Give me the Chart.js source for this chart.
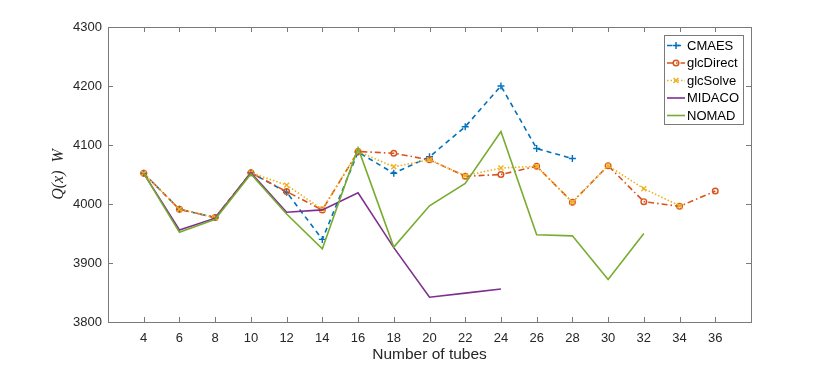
<!DOCTYPE html>
<html>
<head>
<meta charset="utf-8">
<script src="https://cdn.jsdelivr.net/npm/chart.js@4.4.0/dist/chart.umd.min.js"></script>
<style>
  html, body { margin: 0; padding: 0; background: #fff; }
  canvas { display: block; }
</style>
</head>
<body>
<canvas id="tubes" width="830" height="367"></canvas>
<script>
// number of tubes on the x axis
const tubes = [4, 6, 8, 10, 12, 14, 16, 18, 20, 22, 24, 26, 28, 30, 32, 34, 36];

// Q(x) in W for each solver (null = no result)
const cmaes     = [4052, 3991, 3977, 4053, 4020, 3940, 4088, 4052, 4080, 4131, 4200, 4094, 4077, null, null, null, null];
const glcDirect = [4052, 3991, 3977, 4053, 4021, 3990, 4089, 4086, 4075, 4047, 4050, 4064, 4003, 4065, 4004, 3996, 4022];
const glcSolve  = [4052, 3991, 3977, 4053, 4032, 3991, 4089, 4063, 4075, 4048, 4061, 4064, 4003, 4065, 4026, 3997, null];
const midaco    = [4052, 3956, 3976, 4053, 3986, 3990, 4019, 3926, 3842, 3849, 3856, null, null, null, null, null, null];
const nomad     = [4052, 3952, 3974, 4051, 3983, 3924, 4095, 3927, 3997, 4035, 4123, 3948, 3946, 3872, 3950, null, null];

const yTicks = [3800, 3900, 4000, 4100, 4200, 4300];

const toPoints = (vals) => tubes.map((t, i) => ({ x: t, y: vals[i] })).filter(p => p.y !== null);

const axisColor = '#262626';
const boxColor = '#7a7a7a';

function marker(ctx, style, x, y, r, color) {
  ctx.save();
  ctx.setLineDash([]);
  ctx.strokeStyle = color;
  ctx.lineWidth = 1.5;
  ctx.beginPath();
  if (style === 'circle') {
    ctx.arc(x, y, r, 0, Math.PI * 2);
  } else if (style === 'cross') {
    ctx.moveTo(x - r, y); ctx.lineTo(x + r, y);
    ctx.moveTo(x, y - r); ctx.lineTo(x, y + r);
  } else if (style === 'crossRot') {
    const d = r * 0.71;
    ctx.moveTo(x - d, y - d); ctx.lineTo(x + d, y + d);
    ctx.moveTo(x + d, y - d); ctx.lineTo(x - d, y + d);
  }
  if (style) ctx.stroke();
  ctx.restore();
}

// matlab style box with inward ticks
const boxPlugin = {
  id: 'box',
  afterDraw(chart) {
    const { ctx, chartArea: a, scales } = chart;
    ctx.save();
    ctx.strokeStyle = boxColor;
    ctx.lineWidth = 1;
    ctx.strokeRect(a.left + 0.5, a.top + 0.5, a.right - a.left, a.bottom - a.top);
    const len = 5;
    ctx.beginPath();
    tubes.forEach(t => {
      const px = Math.round(scales.x.getPixelForValue(t)) + 0.5;
      ctx.moveTo(px, a.bottom); ctx.lineTo(px, a.bottom - len);
      ctx.moveTo(px, a.top); ctx.lineTo(px, a.top + len);
    });
    yTicks.forEach(v => {
      const py = Math.round(scales.y.getPixelForValue(v)) + 0.5;
      ctx.moveTo(a.left, py); ctx.lineTo(a.left + len, py);
      ctx.moveTo(a.right, py); ctx.lineTo(a.right - len, py);
    });
    ctx.stroke();
    ctx.restore();
  }
};

// legend box in the upper right corner
const legendPlugin = {
  id: 'boxLegend',
  afterDraw(chart) {
    const { ctx, chartArea: a } = chart;
    const w = 79, h = 89;
    const x0 = a.right - 8 - w, y0 = a.top + 8;
    ctx.save();
    ctx.fillStyle = '#fff';
    ctx.fillRect(x0, y0, w, h);
    ctx.strokeStyle = boxColor;
    ctx.lineWidth = 1;
    ctx.strokeRect(x0 + 0.5, y0 + 0.5, w, h);
    ctx.font = '13px "Liberation Sans", Arial, sans-serif';
    ctx.textBaseline = 'middle';
    chart.data.datasets.forEach((ds, i) => {
      const y = y0 + 10.5 + i * 17.5;
      ctx.strokeStyle = ds.borderColor;
      ctx.lineWidth = ds.borderWidth;
      ctx.setLineDash(ds.borderDash || []);
      ctx.beginPath();
      ctx.moveTo(x0 + 3, y); ctx.lineTo(x0 + 21, y);
      ctx.stroke();
      if (ds.pointRadius > 0) marker(ctx, ds.pointStyle, x0 + 12, y, ds.pointRadius, ds.borderColor);
      ctx.setLineDash([]);
      ctx.fillStyle = '#000';
      ctx.fillText(ds.label, x0 + 23, y + 0.5);
    });
    ctx.restore();
  }
};

const series = (label, vals, color, dash, style, radius, order) => ({
  label: label,
  data: toPoints(vals),
  borderColor: color,
  backgroundColor: 'rgba(0,0,0,0)',
  borderWidth: 1.6,
  borderDash: dash,
  pointStyle: style,
  pointRadius: radius,
  pointBorderWidth: 1.4,
  pointBorderColor: color,
  pointBackgroundColor: 'rgba(0,0,0,0)',
  tension: 0,
  order: order
});

new Chart(document.getElementById('tubes'), {
  type: 'line',
  data: {
    datasets: [
      series('CMAES', cmaes, '#0072BD', [5, 4], 'cross', 3.5, 5),
      series('glcDirect', glcDirect, '#D95319', [6, 3, 1.5, 3], 'circle', 2.8, 4),
      series('glcSolve', glcSolve, '#EDB120', [1.5, 2], 'crossRot', 3.5, 3),
      series('MIDACO', midaco, '#7E2F8E', [], false, 0, 2),
      series('NOMAD', nomad, '#77AC30', [], false, 0, 1)
    ]
  },
  options: {
    responsive: false,
    animation: false,
    layout: { padding: { left: 0, right: 79, top: 27, bottom: 0 } },
    plugins: {
      legend: { display: false },
      tooltip: { enabled: false }
    },
    scales: {
      x: {
        type: 'linear',
        min: 2,
        max: 38,
        afterBuildTicks: (scale) => { scale.ticks = tubes.map(v => ({ value: v })); },
        afterFit: (scale) => { scale.height = 45; },
        grid: { display: false, drawTicks: false },
        border: { display: false },
        ticks: {
          padding: 9,
          color: axisColor,
          maxRotation: 0,
          autoSkip: false,
          callback: (v) => String(v),
          font: { family: '"Liberation Sans", Arial, sans-serif', size: 13 }
        },
        title: {
          display: true,
          text: 'Number of tubes',
          color: axisColor,
          padding: { top: 0, bottom: 3 },
          font: { family: '"Liberation Sans", Arial, sans-serif', size: 15.5 }
        }
      },
      y: {
        min: 3800,
        max: 4300,
        afterBuildTicks: (scale) => { scale.ticks = yTicks.map(v => ({ value: v })); },
        afterFit: (scale) => { scale.width = 108; },
        grid: { display: false, drawTicks: false },
        border: { display: false },
        ticks: {
          padding: 6,
          color: axisColor,
          callback: (v) => String(v),
          font: { family: '"Liberation Sans", Arial, sans-serif', size: 13 }
        },
        title: {
          display: true,
          text: 'Q(x)  W',
          color: axisColor,
          padding: { top: 49, bottom: 0 },
          font: { family: '"Liberation Serif", serif', size: 16, style: 'italic' }
        }
      }
    }
  },
  plugins: [boxPlugin, legendPlugin]
});
</script>
</body>
</html>
